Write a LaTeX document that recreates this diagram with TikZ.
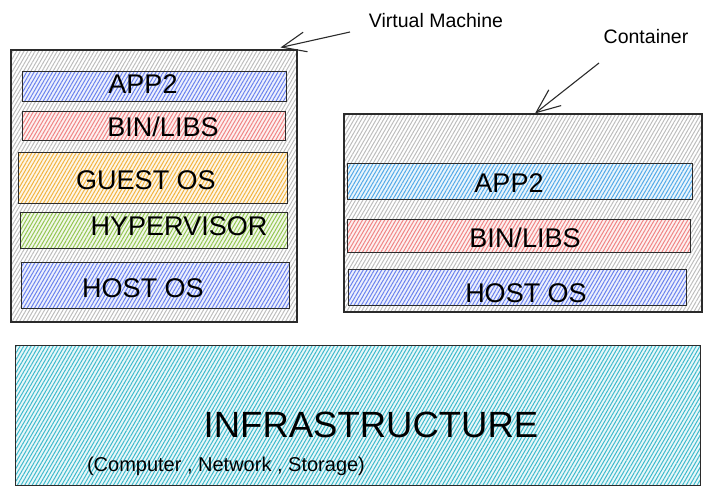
\documentclass[tikz,border=0pt]{standalone}
\usepackage{fontspec}
\setmainfont{Liberation Sans}
\usetikzlibrary{patterns.meta,arrows.meta}
\definecolor{hgray}{HTML}{BDBDBD}
\definecolor{hblue}{HTML}{6A82EE}
\definecolor{hred}{HTML}{F08484}
\definecolor{horange}{HTML}{F2B340}
\definecolor{hgreen}{HTML}{94C652}
\definecolor{hsky}{HTML}{52A9E8}
\definecolor{hcyan}{HTML}{3EBACC}
\definecolor{edge}{HTML}{2B2B2B}
\tikzset{
  hatch/.style={pattern={Lines[angle=60,distance=3.2pt,line width=1pt]},pattern color=#1},
  outerbox/.style={draw=edge,line width=1.1pt,hatch=hgray,minimum width=#1},
  layer/.style 2 args={draw=edge,line width=1pt,preaction={fill=#1!12},hatch=#1,minimum width=#2},
  lbl/.style={font=\fontsize{27}{31}\selectfont,inner sep=0pt,text=black},
  note/.style={font=\fontsize{19.5}{23}\selectfont,inner sep=0pt},
  pointer/.style={draw=edge,line width=1.1pt,-{Straight Barb[length=24pt,width=20pt,line width=1.1pt]}}
}
\begin{document}
\begin{tikzpicture}[x=1pt,y=-1pt]
\useasboundingbox (0,0) rectangle (711,496);
% Virtual machine stack
\node[outerbox=286pt,minimum height=272pt] (vm) at (154,186) {};
\node[layer={hblue}{264pt},minimum height=30pt] (vmapp) at (154,86) {};
\node[layer={hred}{263pt},minimum height=29pt] (vmbin) at (153.5,125.5) {};
\node[layer={horange}{269pt},minimum height=51pt] (vmguest) at (152.5,177.5) {};
\node[layer={hgreen}{267pt},minimum height=36pt] (vmhyp) at (153.5,230) {};
\node[layer={hblue}{268pt},minimum height=46pt] (vmhost) at (155,285) {};
\node[lbl] (tvmapp) at (143,84) {APP2};
\node[lbl] (tvmbin) at (163,127) {BIN/LIBS};
\node[lbl] (tvmguest) at (146,180) {GUEST OS};
\node[lbl] (tvmhyp) at (179,226) {HYPERVISOR};
\node[lbl] (tvmhost) at (143,288) {HOST OS};
% Container stack
\node[outerbox=358pt,minimum height=198pt] (ct) at (523,213) {};
\node[layer={hsky}{345pt},minimum height=36pt] (ctapp) at (519.5,181) {};
\node[layer={hred}{343pt},minimum height=33pt] (ctbin) at (518.5,235.5) {};
\node[layer={hblue}{338pt},minimum height=36pt] (cthost) at (517,287) {};
\node[lbl] (tctapp) at (509,183) {APP2};
\node[lbl] (tctbin) at (525,238) {BIN/LIBS};
\node[lbl] (tcthost) at (526,293) {HOST OS};
% Infrastructure
\node[layer={hcyan}{685pt},minimum height=140pt] (infra) at (357.5,415.5) {};
\node[font=\fontsize{36.5}{42}\selectfont,inner sep=0pt] (tinfra) at (371,425) {INFRASTRUCTURE};
\node[font=\fontsize{20}{24}\selectfont,inner sep=0pt] (tinfrasub) at (226,466) {(Computer , Network , Storage)};
% Notes and pointers
\node[note] (nvm) at (436,21) {Virtual Machine};
\node[note] (nct) at (646,37) {Container};
\coordinate (vmfrom) at (350,32);
\coordinate (vmto) at ([xshift=-17pt,yshift=2pt]vm.north east);
\coordinate (ctfrom) at (599,63);
\coordinate (ctto) at (ct.north -| 535,0);
\draw[pointer] (vmfrom) -- (vmto);
\draw[pointer] (ctfrom) -- (ctto);
\end{tikzpicture}
\end{document}
